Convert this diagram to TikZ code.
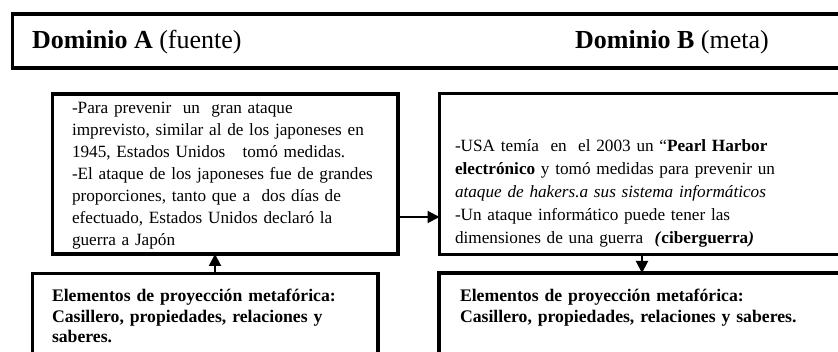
\documentclass[tikz,border=0pt]{standalone}
\usepackage{fontspec}
\setmainfont{Liberation Serif}
\usetikzlibrary{arrows.meta}
\tikzset{
  box/.style={draw=black, line width=3.5pt, rectangle, outer sep=0pt, inner sep=0pt, anchor=north west},
  body/.style={anchor=base west, inner sep=0pt, outer sep=0pt, align=left, text width=390pt,
    font=\fontsize{17.2}{22}\selectfont},
  bodyr/.style={body, font=\fontsize{17.2}{23}\selectfont},
  lower/.style={body, font=\fontsize{17.7}{20.5}\selectfont\bfseries},
  head/.style={anchor=base west, inner sep=0pt, font=\fontsize{26}{30}\selectfont},
  arr/.style={line width=2pt, -{Triangle[length=12pt,width=12pt]}}
}
\begin{document}
\begin{tikzpicture}[x=1pt,y=-1pt]
\useasboundingbox (0,0) rectangle (838,352);
\clip (0,0) rectangle (838,352);
% top domain bar
\node[box, minimum width=860pt, minimum height=54pt] (top) at (12.5,14) {};
\node[head] (ta) at (32,49) {\textbf{Dominio A} (fuente)};
\node[head] (tb) at (575,49) {\textbf{Dominio B} (meta)};
% upper boxes
\node[box, minimum width=345.5pt, minimum height=160pt] (A) at (52.5,94) {};
\node[box, minimum width=440pt, minimum height=161pt] (B) at (439.5,93.5) {};
% lower boxes
\node[box, minimum width=345.5pt, minimum height=110pt] (C) at (32.5,273.5) {};
\node[box, minimum width=440pt, minimum height=110pt] (D) at (439,273) {};
% texts
\node[body] (at) at (72,114) {-Para prevenir\ \ un\ \ gran ataque\\
imprevisto, similar al de los japoneses en\\
1945, Estados Unidos\ \ \ tomó medidas.\\
-El ataque de los japoneses fue de grandes\\
proporciones, tanto que a\ \ dos días de\\
efectuado, Estados Unidos declaró la\\
guerra a Japón};
\node[bodyr] (bt) at (455,152) {-USA temía\ \ en\ \ el 2003 un “\textbf{Pearl Harbor}\\
\textbf{electrónico} y tomó medidas para prevenir un\\
\textit{ataque de hakers.a sus sistema informáticos}\\
-Un ataque informático puede tener las\\
dimensiones de una guerra\ \ \textbf{\textit{(}ciberguerra\textit{)}}};
\node[lower] (ct) at (52,302) {Elementos de proyección metafórica:\\
Casillero, propiedades, relaciones y\\
saberes.};
\node[lower] (dt) at (460,302) {Elementos de proyección metafórica:\\
Casillero, propiedades, relaciones y saberes.};
% connectors
\draw[arr] ([yshift=-43pt]A.east) -- ([yshift=-43pt]B.west);
\draw[arr] (C.north -| 215,0) -- (A.south -| 215,0);
\draw[arr] (B.south -| 642,0) -- (D.north -| 642,0);
\end{tikzpicture}
\end{document}
